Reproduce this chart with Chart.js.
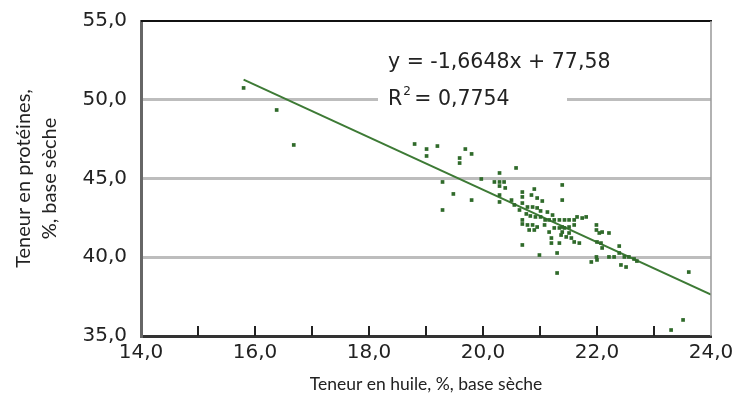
<!DOCTYPE html>
<html>
<head>
<meta charset="utf-8">
<script src="https://cdn.jsdelivr.net/npm/chart.js@4/dist/chart.umd.min.js"></script>
<style>
  html, body { margin: 0; padding: 0; background: #fff; }
  #wrap { width: 737px; height: 411px; }
</style>
</head>
<body>
<div id="wrap"><canvas id="chart" width="737" height="411"></canvas></div>
<script>
// Oil content (x) and protein content (y), % dry basis
const oilValues = [15.80,16.38,16.68,18.80,19.01,19.01,19.20,19.69,19.80,19.59,
  19.59,19.29,19.48,19.80,19.29,19.97,20.29,20.58,20.20,20.29,
  20.37,20.29,20.39,20.29,20.29,20.69,20.69,20.90,20.85,20.95,
  21.04,21.39,21.39,20.69,20.78,20.87,20.95,20.64,21.01,20.76,
  20.83,20.92,21.01,21.09,21.16,21.25,21.34,21.43,21.51,21.60,
  21.65,21.74,21.81,20.69,20.69,20.78,20.87,20.95,20.81,20.90,
  21.16,21.25,21.34,21.43,21.51,21.60,21.20,21.20,21.37,21.46,
  21.55,20.69,20.99,21.30,21.30,21.39,21.39,21.51,21.60,21.69,
  21.34,21.99,21.99,22.04,22.09,22.21,22.00,22.07,22.09,22.39,
  21.99,22.00,21.90,22.21,22.30,22.39,22.48,22.56,22.65,22.70,
  22.42,22.51,23.61,23.51,23.30,20.50,20.55,21.13,21.22,21.08];
const proteinValues = [50.75,49.35,47.13,47.19,46.87,46.43,47.06,46.87,46.56,46.30,
  45.98,44.78,44.02,43.63,43.00,44.97,45.35,45.67,44.78,44.78,
  44.78,44.52,44.40,43.95,43.51,44.14,43.83,44.33,43.95,43.76,
  43.57,44.59,43.63,43.44,43.19,43.19,43.13,43.00,42.94,42.75,
  42.62,42.56,42.56,42.37,42.37,42.37,42.37,42.37,42.37,42.37,
  42.56,42.49,42.56,42.37,42.11,42.05,42.05,41.92,41.73,41.73,
  41.60,41.86,41.86,41.86,41.92,42.05,41.22,40.90,41.41,41.29,
  41.22,40.78,40.14,40.27,39.00,41.92,41.60,41.54,40.97,40.90,
  40.90,42.05,41.73,41.54,41.60,41.54,40.97,40.90,40.59,40.71,
  40.02,39.83,39.70,40.02,40.02,40.27,40.02,40.02,39.89,39.76,
  39.51,39.38,39.06,36.02,35.38,43.63,43.32,42.87,42.68,42.05];

// Regression given on the chart
const slope = -1.6648;
const intercept = 77.58;
const eqLines = ["y = -1,6648x + 77,58", "R", "= 0,7754"];

// Axis ranges / ticks
const xMin = 14, xMax = 24;
const yMin = 35, yMax = 55;
const yGridValues = [40, 45, 50];
const xTickMarks = [15, 16, 17, 18, 19, 20, 21, 22, 23];

const NUM_FONT = "'DejaVu Sans', sans-serif";
const TXT_FONT = "Lato, 'Open Sans', sans-serif";
const fmt = v => v.toFixed(1).replace(".", ",");

const points = oilValues.map((x, i) => ({ x: x, y: proteinValues[i] }));
const trendStart = Math.min(...oilValues);
const trend = [trendStart, xMax].map(x => ({ x: x, y: slope * x + intercept }));

// frame, inside tick marks, equation label
const decor = {
  id: "decor",
  beforeDatasetsDraw(chart) {
    const { ctx } = chart;
    // white box behind the R² text cuts the 50 gridline
    ctx.save();
    ctx.fillStyle = "#fff";
    ctx.fillRect(378, 84, 189, 28);
    ctx.restore();
  },
  afterDraw(chart) {
    const { ctx, chartArea: a, scales } = chart;
    ctx.save();
    // top and right frame
    ctx.strokeStyle = "#111";
    ctx.lineWidth = 2;
    ctx.beginPath();
    ctx.moveTo(a.left, a.top);
    ctx.lineTo(a.right + 1, a.top);
    ctx.stroke();
    ctx.strokeStyle = "#999";
    ctx.lineWidth = 1.5;
    ctx.beginPath();
    ctx.moveTo(a.right, a.top);
    ctx.lineTo(a.right, a.bottom);
    ctx.stroke();
    // tick marks pointing up
    ctx.strokeStyle = "#222";
    ctx.lineWidth = 2;
    xTickMarks.forEach(v => {
      const px = Math.round(scales.x.getPixelForValue(v));
      ctx.beginPath();
      ctx.moveTo(px, a.bottom);
      ctx.lineTo(px, a.bottom - 10);
      ctx.stroke();
    });
    // equation
    ctx.fillStyle = "#222";
    ctx.font = "20.5px " + NUM_FONT;
    ctx.textBaseline = "alphabetic";
    ctx.fillText(eqLines[0], 388, 68);
    ctx.fillText(eqLines[1], 388, 105);
    const rw = ctx.measureText(eqLines[1]).width;
    ctx.font = "12px " + NUM_FONT;
    ctx.fillText("2", 388 + rw + 1, 95);
    ctx.font = "20.5px " + NUM_FONT;
    ctx.fillText(eqLines[2], 388 + rw + 12, 105);
    ctx.restore();
  }
};

new Chart(document.getElementById("chart"), {
  type: "scatter",
  data: {
    datasets: [
      {
        type: "line",
        data: trend,
        borderColor: "#3d7a35",
        borderWidth: 2,
        pointRadius: 0,
        fill: false,
        order: 2
      },
      {
        data: points,
        pointStyle: "rect",
        pointRadius: 2.6,
        backgroundColor: "#2f6a2a",
        borderColor: "#2f6a2a",
        borderWidth: 0,
        order: 1
      }
    ]
  },
  options: {
    responsive: false,
    animation: false,
    layout: { padding: { top: 21, right: 26, left: 0, bottom: 0 } },
    plugins: { legend: { display: false }, tooltip: { enabled: false } },
    scales: {
      x: {
        type: "linear",
        min: xMin,
        max: xMax,
        afterFit: s => { s.height = 75; s.paddingLeft = 0; s.paddingRight = 0; },
        ticks: {
          stepSize: 1,
          autoSkip: false,
          maxRotation: 0,
          padding: 5,
          color: "#222",
          font: { family: NUM_FONT, size: 20 },
          callback: v => (v % 2 === 0 ? fmt(v) : "")
        },
        grid: { display: false, drawTicks: false },
        border: { display: true, color: "#333", width: 3 },
        title: {
          display: true,
          text: "Teneur en huile, %, base sèche",
          color: "#222",
          font: { family: TXT_FONT, size: 17.5 },
          padding: { top: 0, bottom: 16 }
        }
      },
      y: {
        min: yMin,
        max: yMax,
        afterFit: s => { s.width = 141; s.paddingTop = 0; s.paddingBottom = 0; },
        ticks: {
          stepSize: 5,
          padding: 14,
          color: "#222",
          font: { family: NUM_FONT, size: 20 },
          callback: v => fmt(v)
        },
        grid: {
          drawTicks: false,
          lineWidth: 3,
          color: c => (yGridValues.includes(c.tick.value) ? "#bdbdbd" : "rgba(0,0,0,0)")
        },
        border: { display: true, color: "#666", width: 3 },
        title: {
          display: true,
          text: ["Teneur en protéines,", "%, base sèche"],
          color: "#222",
          font: { family: TXT_FONT, size: 20, lineHeight: 1.3 },
          padding: { top: 11, bottom: 0 }
        }
      }
    }
  },
  plugins: [decor]
});
</script>
</body>
</html>
